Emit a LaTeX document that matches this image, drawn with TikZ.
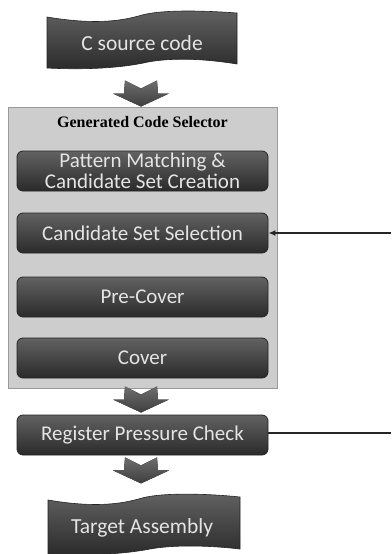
\documentclass[tikz,border=0pt]{standalone}
\usepackage{fontspec}
\setmainfont{Carlito}
\newfontfamily\titlefont{Liberation Serif}
\usetikzlibrary{arrows.meta,calc}

\definecolor{stagetop}{HTML}{626262}
\definecolor{stagebot}{HTML}{2A2A2A}
\definecolor{stageedge}{HTML}{242424}
\definecolor{stagetext}{HTML}{E4E4E4}
\definecolor{panelfill}{HTML}{CDCDCD}
\definecolor{paneledge}{HTML}{9A9A9A}
\definecolor{chevtop}{HTML}{6E6E6E}
\definecolor{chevbot}{HTML}{3E3E3E}

\tikzset{
  stage/.style={rounded corners=6pt, draw=stageedge, line width=0.8pt,
    top color=stagetop, bottom color=stagebot,
    minimum width=251, minimum height=40, inner sep=0pt,
    text=stagetext, align=center,
    font=\fontsize{21}{21}\selectfont},
  panel/.style={draw=paneledge, line width=1pt, fill=panelfill,
    minimum width=269, minimum height=281, inner sep=0pt},
  wavebox/.style={draw=stageedge, line width=0.6pt,
    top color=stagetop, bottom color=stagebot},
  wavelabel/.style={text=stagetext, font=\fontsize{21.5}{22}\selectfont, inner sep=0pt},
  feed/.style={line width=1.5pt, draw=black!85},
  pics/chevron/.style={code={
    \fill[top color=chevtop, bottom color=chevbot]
      (-16,0) -- (0,8) -- (16,0) -- (17,13) -- (28,13) -- (0,26)
      -- (-28,13) -- (-17,13) -- cycle;
  }}
}

\begin{document}
\begin{tikzpicture}[x=1pt,y=-1pt]
\useasboundingbox (0,0) rectangle (391,554);

% input: wavy banner
\path[wavebox] (47,17) .. controls (95,25) and (122,21) .. (142,15)
  .. controls (165,9) and (210,11) .. (237,13)
  -- (237,64) .. controls (200,58) and (170,58) .. (148,62)
  .. controls (122,68) and (85,70) .. (47,68) -- cycle;
\node[wavelabel] (src) at (142,43) {C source code};

% selector panel with its four stages
\node[panel] (gcs) at (142.5,247.5) {};
\node[font=\titlefont\bfseries\fontsize{16}{18}\selectfont, inner sep=0pt]
  (gcstitle) at (142.5,122) {Generated Code Selector};
\node[stage] (pm)  at (142.5,171) {Pattern Matching \&\\Candidate Set Creation};
\node[stage] (css) at (142.5,233) {Candidate Set Selection};
\node[stage] (pre) at (142.5,297) {Pre-Cover};
\node[stage] (cov) at (142.5,358) {Cover};

% register check and output banner
\node[stage] (rpc) at (142.5,435) {Register Pressure Check};

\path[wavebox] (48,500) .. controls (95,508) and (122,504) .. (142,498)
  .. controls (165,492) and (212,494) .. (240,497)
  -- (240,549) .. controls (205,545) and (172,545) .. (150,549)
  .. controls (124,554) and (90,556) .. (48,554) -- cycle;
\node[wavelabel] (tgt) at (142,528) {Target Assembly};

% block arrows between the stages
\pic at ($(gcs.north)+(-1.5,-26)$) {chevron};
\pic at ($(gcs.south)+(-1.5,-2)$) {chevron};
\pic at ($(rpc.south)+(-1.5,2)$) {chevron};

% side connections
\coordinate (feedin) at (391,233);
\coordinate (feedout) at (391,433);
\draw[feed, -{Latex[length=7pt,width=6pt]}] (feedin) -- (css.east);
\draw[feed] (rpc.east |- feedout) -- (feedout);
\end{tikzpicture}
\end{document}
